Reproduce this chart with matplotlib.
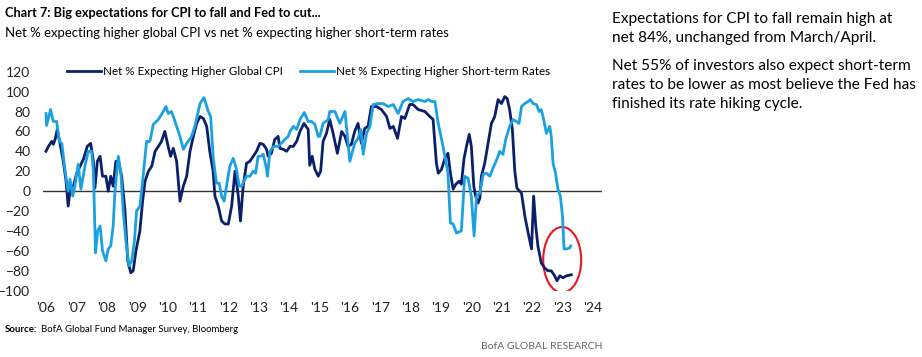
import matplotlib
matplotlib.use("Agg")
import matplotlib.pyplot as plt
from matplotlib.patches import Ellipse

# Net % expecting higher global CPI (decimal years)
cpi_dates = [2006.00, 2006.08, 2006.19, 2006.24, 2006.30, 2006.37, 2006.46, 2006.57, 2006.66, 2006.73,
             2006.81, 2006.90, 2007.01, 2007.12, 2007.23, 2007.36, 2007.47, 2007.56, 2007.61, 2007.69,
             2007.78, 2007.86, 2007.97, 2008.05, 2008.13, 2008.21, 2008.30, 2008.38, 2008.49, 2008.60,
             2008.69, 2008.79, 2008.87, 2008.96, 2009.09, 2009.18, 2009.26, 2009.37, 2009.48, 2009.59,
             2009.70, 2009.80, 2009.91, 2010.02, 2010.10, 2010.19, 2010.30, 2010.41, 2010.52, 2010.63,
             2010.74, 2010.85, 2010.96, 2011.07, 2011.18, 2011.29, 2011.39, 2011.50, 2011.56, 2011.67,
             2011.78, 2011.89, 2012.00, 2012.11, 2012.22, 2012.33, 2012.40, 2012.49, 2012.60, 2012.71,
             2012.82, 2012.93, 2013.04, 2013.15, 2013.26, 2013.31, 2013.42, 2013.53, 2013.64, 2013.70,
             2013.81, 2013.92, 2014.03, 2014.14, 2014.25, 2014.36, 2014.49, 2014.63, 2014.68, 2014.76,
             2014.85, 2014.96, 2015.04, 2015.12, 2015.23, 2015.34, 2015.45, 2015.59, 2015.73, 2015.84,
             2015.94, 2016.05, 2016.16, 2016.27, 2016.38, 2016.49, 2016.60, 2016.71, 2016.88, 2017.04,
             2017.21, 2017.32, 2017.43, 2017.57, 2017.70, 2017.81, 2017.97, 2018.08, 2018.25, 2018.47,
             2018.63, 2018.74, 2018.85, 2018.91, 2019.02, 2019.13, 2019.23, 2019.31, 2019.40, 2019.49,
             2019.60, 2019.67, 2019.76, 2019.84, 2019.93, 2020.00, 2020.08, 2020.14, 2020.22, 2020.28,
             2020.33, 2020.44, 2020.55, 2020.66, 2020.77, 2020.88, 2020.99, 2021.10, 2021.18, 2021.26,
             2021.35, 2021.43, 2021.50, 2021.59, 2021.65, 2021.76, 2021.87, 2021.98, 2022.05, 2022.12,
             2022.19, 2022.30, 2022.41, 2022.52, 2022.63, 2022.74, 2022.82, 2022.91, 2023.02, 2023.13,
             2023.29]
cpi_vals = [40, 45, 50, 47, 52, 62, 48, 30, 10, -15,
            5, 5, 18, 25, 32, 45, 48, 30, 3, 30,
            35, 15, 15, 0, 15, 5, 30, 30, 15, -20,
            -70, -82, -80, -60, -40, -10, 10, 20, 25, 40,
            45, 50, 60, 45, 35, 43, 30, -10, 5, 15,
            40, 55, 68, 75, 73, 65, 40, 20, -5, -15,
            -30, -33, -33, -15, 20, -5, -30, 5, 28, 30,
            35, 40, 48, 47, 42, 35, 38, 52, 55, 43,
            42, 40, 45, 45, 50, 60, 68, 62, 26, 35,
            22, 15, 20, 50, 58, 72, 58, 38, 60, 55,
            45, 47, 60, 68, 48, 63, 65, 85, 85, 82,
            75, 63, 65, 53, 75, 73, 87, 87, 82, 80,
            75, 72, 28, 18, 22, 33, 38, 18, 2, 7,
            10, 7, 33, 45, 57, 45, 5, -5, -12, -7,
            15, 28, 48, 68, 75, 92, 88, 95, 93, 82,
            62, 20, 3, 0, -2, -25, -42, -58, -5, -35,
            -55, -72, -77, -80, -80, -85, -90, -85, -87, -85,
            -84]

# Net % expecting higher short-term rates
rate_dates = [2006.00, 2006.02, 2006.15, 2006.24, 2006.35, 2006.44, 2006.52, 2006.63, 2006.73, 2006.79,
              2006.88, 2006.95, 2007.06, 2007.15, 2007.28, 2007.39, 2007.50, 2007.56, 2007.63, 2007.70,
              2007.78, 2007.86, 2007.97, 2008.05, 2008.13, 2008.21, 2008.27, 2008.38, 2008.46, 2008.54,
              2008.63, 2008.73, 2008.82, 2008.91, 2008.98, 2009.09, 2009.18, 2009.31, 2009.42, 2009.53,
              2009.70, 2009.80, 2009.95, 2010.02, 2010.13, 2010.19, 2010.30, 2010.41, 2010.52, 2010.63,
              2010.79, 2010.90, 2011.07, 2011.20, 2011.34, 2011.42, 2011.50, 2011.61, 2011.70, 2011.78,
              2011.86, 2011.94, 2012.05, 2012.16, 2012.27, 2012.36, 2012.44, 2012.51, 2012.60, 2012.71,
              2012.82, 2012.90, 2012.98, 2013.07, 2013.15, 2013.24, 2013.29, 2013.37, 2013.50, 2013.64,
              2013.75, 2013.86, 2013.97, 2014.03, 2014.14, 2014.25, 2014.36, 2014.50, 2014.63, 2014.74,
              2014.85, 2014.96, 2015.01, 2015.12, 2015.29, 2015.34, 2015.51, 2015.67, 2015.84, 2016.00,
              2016.16, 2016.27, 2016.36, 2016.44, 2016.55, 2016.66, 2016.77, 2016.93, 2017.10, 2017.26,
              2017.43, 2017.59, 2017.75, 2017.92, 2018.08, 2018.25, 2018.47, 2018.58, 2018.69, 2018.80,
              2018.91, 2019.02, 2019.13, 2019.23, 2019.31, 2019.40, 2019.51, 2019.67, 2019.78, 2019.89,
              2020.00, 2020.09, 2020.17, 2020.28, 2020.39, 2020.50, 2020.61, 2020.71, 2020.88, 2020.93,
              2021.04, 2021.13, 2021.26, 2021.37, 2021.48, 2021.57, 2021.65, 2021.76, 2021.87, 2021.94,
              2022.03, 2022.14, 2022.23, 2022.30, 2022.38, 2022.47, 2022.58, 2022.63, 2022.69, 2022.77,
              2022.85, 2022.93, 2023.00, 2023.05, 2023.13, 2023.24, 2023.27]
rate_vals = [78, 66, 82, 70, 70, 50, 48, 20, 0, 12,
             -5, 5, 27, 2, 25, 40, 40, 20, -62, -40,
             -35, -60, -70, -58, -55, -35, 0, 35, 20, -20,
             -50, -75, -70, -50, -20, -15, 10, 50, 50, 67,
             72, 77, 85, 78, 80, 75, 65, 55, 42, 48,
             55, 65, 88, 94, 80, 75, 35, 8, 8, -5,
             -10, 5, 25, 33, 22, 5, 5, 10, 15, 15,
             20, 18, 35, 35, 37, 25, 15, 40, 45, 45,
             48, 52, 55, 60, 65, 62, 72, 79, 70, 70,
             67, 55, 55, 68, 72, 80, 80, 68, 80, 30,
             48, 53, 62, 37, 58, 65, 87, 88, 88, 85,
             87, 78, 90, 93, 90, 92, 90, 92, 90, 90,
             68, 52, 35, 18, -32, -33, -42, -40, 15, 13,
             -5, -45, -5, -2, 17, 18, 15, 23, 35, 40,
             37, 52, 65, 72, 70, 68, 85, 88, 90, 92,
             88, 87, 80, 82, 72, 58, 65, 55, 28, 18,
             2, -5, -25, -58, -58, -57, -55]

years = list(range(2006, 2025))
year_labels = ["'" + str(y)[2:] for y in years]

navy = '#0c1f6a'
light = '#1ba1e2'
font = 'Lato'

fig = plt.figure(figsize=(9.22, 3.57), dpi=100)
ax = fig.add_axes([0.0466, 0.1857, 0.606, 0.6135])

ax.plot(cpi_dates, cpi_vals, color=navy, lw=2.0, label='Net % Expecting Higher Global CPI')
ax.plot(rate_dates, rate_vals, color=light, lw=2.0, label='Net % Expecting Higher Short-term Rates')
ax.axhline(0, color='#333333', lw=1, zorder=0)

# red circle round the latest readings
ax.add_patch(Ellipse((2022.99, -69), 1.25, 66, fill=False, edgecolor='#e8171f', lw=1.5))

ax.set_xlim(2005.9, 2024.29)
ax.set_ylim(-100, 120)
ax.set_yticks(range(-100, 121, 20))
ax.set_xticks(years)
ax.set_xticklabels(year_labels)
for s in ax.spines.values():
    s.set_visible(False)
ax.tick_params(length=0, labelsize=10, colors='#222222')
ax.tick_params(axis='y', pad=9)
ax.tick_params(axis='x', pad=8)
for lab in ax.get_xticklabels() + ax.get_yticklabels():
    lab.set_family(font)

ax.legend(loc='center left', bbox_to_anchor=(0.043, 1.0), ncol=2, frameon=False,
          borderpad=0, borderaxespad=0, handlelength=2.9, handletextpad=0.15,
          columnspacing=1.5, prop={'family': font, 'size': 8.4})

fig.text(0.005, 0.964, 'Chart 7: Big expectations for CPI to fall and Fed to cut...',
         fontsize=9.2, fontweight='bold', family=font, va='center')
fig.text(0.005, 0.908, 'Net % expecting higher global CPI vs net % expecting higher short-term rates',
         fontsize=9.45, family=font, va='center')

fig.text(0.664, 0.967, 'Expectations for CPI to fall remain high at\nnet 84%, unchanged from March/April.',
         fontsize=11.1, family=font, va='top', linespacing=1.45)
fig.text(0.664, 0.835, 'Net 55% of investors also expect short-term\nrates to be lower as most believe the Fed has\nfinished its rate hiking cycle.',
         fontsize=11.1, family=font, va='top', linespacing=1.45)

fig.text(0.005, 0.076, 'Source:', fontsize=6.9, fontweight='bold', family=font, va='center')
fig.text(0.0445, 0.076, 'BofA Global Fund Manager Survey, Bloomberg', fontsize=6.9, family=font, va='center')
fig.text(0.653, 0.03, 'BofA GLOBAL RESEARCH', fontsize=7.5, family=font, color='#666666',
         ha='right', va='center')

fig.savefig('out.png', dpi=100)
